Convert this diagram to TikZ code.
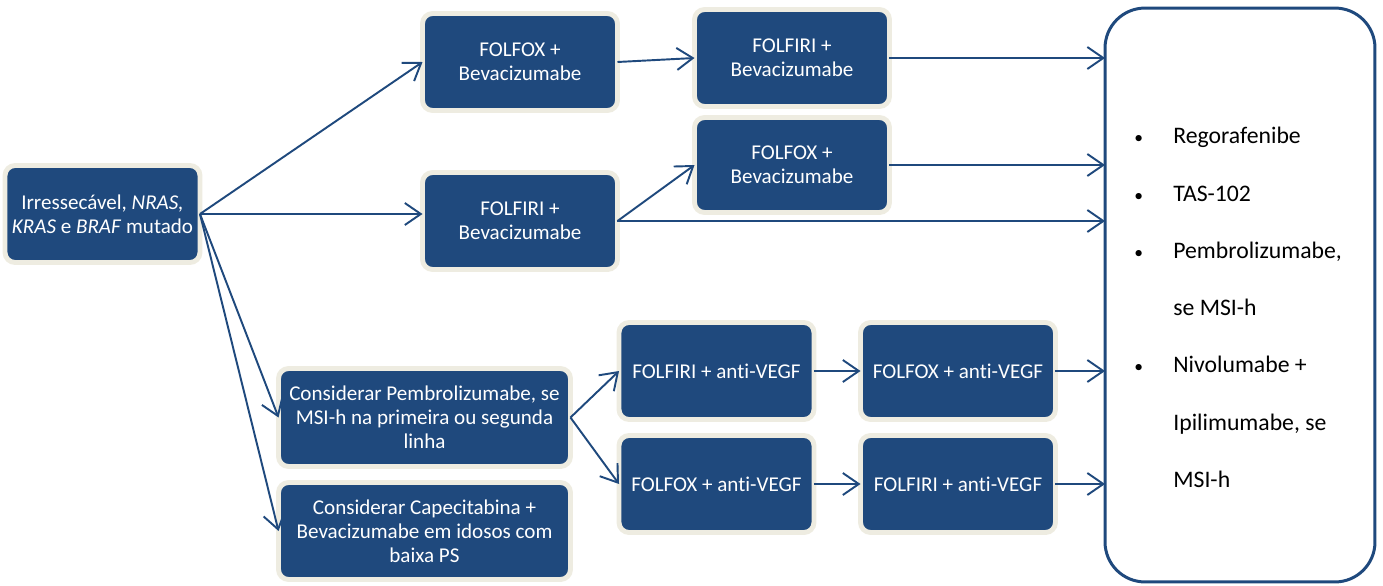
\documentclass[tikz,border=0pt]{standalone}
\usepackage{fontspec}
\setmainfont{Carlito}[Ligatures=NoCommon]
\usepackage{tikz}
\usetikzlibrary{arrows.meta}
\definecolor{boxblue}{RGB}{31,73,125}
\definecolor{boxrim}{RGB}{238,236,225}
\newcommand{\itm}{\makebox[0.78cm][l]{\fontsize{10}{10}\selectfont\textbullet}}
\begin{document}
\begin{tikzpicture}[x=0.02cm,y=-0.02cm,
	box/.style={draw=boxrim,line width=2.8pt,fill=boxblue,rounded corners=0.2cm,
		text=white,align=center,minimum width=3.9cm,minimum height=1.94cm,
		inner sep=2pt,outer sep=0pt,font=\fontsize{12}{13.8}\selectfont},
	wide/.style={box,minimum width=5.84cm,minimum height=1.96cm},
	arr/.style={draw=boxblue,line width=1.1pt,-{Straight Barb[length=3.2mm,width=4.4mm]}}]
\useasboundingbox (0,0) rectangle (1383,585);
\node[box] (start) at (102.5,214) {Irressecável, \textit{NRAS,}\\\textit{KRAS} e \textit{BRAF} mutado};
\node[box] (fx1) at (520,62) {FOLFOX +\\Bevacizumabe};
\node[box] (fi1) at (792,58) {FOLFIRI +\\Bevacizumabe};
\node[box,minimum height=1.9cm] (fx2) at (792,165) {FOLFOX +\\Bevacizumabe};
\node[box] (fi2) at (520,221) {FOLFIRI +\\Bevacizumabe};
\node[wide] (pem) at (424.5,417.5) {Considerar Pembrolizumabe, se\\MSI-h na primeira ou segunda\\linha};
\node[wide,minimum height=1.94cm] (cap) at (424.5,531) {Considerar Capecitabina +\\Bevacizumabe em idosos com\\baixa PS};
\node[box] (fia) at (716.5,371) {FOLFIRI + anti-VEGF};
\node[box] (fxa2) at (958,371) {FOLFOX + anti-VEGF};
\node[box] (fxa) at (716.5,484) {FOLFOX + anti-VEGF};
\node[box] (fia2) at (958,484) {FOLFIRI + anti-VEGF};
\node[draw=boxblue,line width=1.7pt,fill=white,rounded corners=0.8cm,
	minimum width=5.4cm,minimum height=11.48cm,outer sep=0pt] (big) at (1240,295) {};
\node[anchor=north west,inner sep=0pt,align=left,
	font=\fontsize{13.5}{32.6}\selectfont] (lst) at (1134,127)
	{\itm Regorafenibe\\
	\itm TAS-102\\
	\itm Pembrolizumabe,\\
	\hspace*{0.78cm}se MSI-h\\
	\itm Nivolumabe +\\
	\hspace*{0.78cm}Ipilimumabe, se\\
	\hspace*{0.78cm}MSI-h};
% connectors
\draw[arr] (start.east) -- (fx1.west);
\draw[arr] (start.east) -- (start.east -| fi2.west);
\draw[arr] (start.east) -- (pem.west);
\draw[arr] (start.east) -- (cap.west);
\draw[arr] (fx1.east) -- (fi1.west);
\draw[arr] (fi2.east) -- (fx2.west);
\draw[arr] (fi2.east) -- (fi2.east -| big.west);
\draw[arr] (fi1.east) -- (fi1.east -| big.west);
\draw[arr] (fx2.east) -- (fx2.east -| big.west);
\draw[arr] (pem.east) -- (fia.west);
\draw[arr] (pem.east) -- (fxa.west);
\draw[arr] (fia.east) -- (fxa2.west);
\draw[arr] (fxa.east) -- (fia2.west);
\draw[arr] (fxa2.east) -- (fxa2.east -| big.west);
\draw[arr] (fia2.east) -- (fia2.east -| big.west);
\end{tikzpicture}
\end{document}
